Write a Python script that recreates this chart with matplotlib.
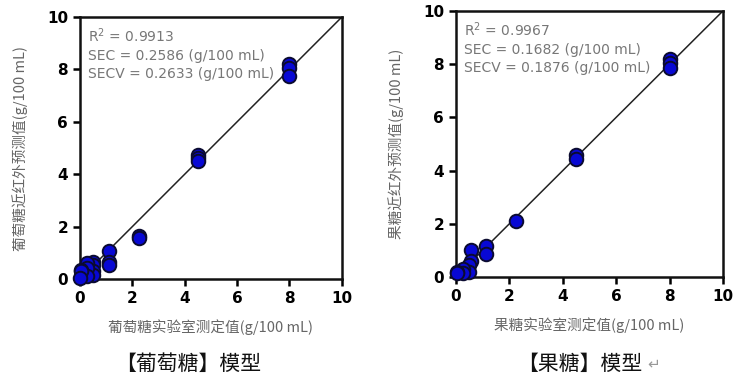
import matplotlib.pyplot as plt

plt.rcParams['font.family'] = ['Noto Sans CJK SC', 'DejaVu Sans']

# 葡萄糖 data
glu_x = [8, 8, 8, 4.5, 4.5, 4.5, 2.25, 2.25, 1.125, 1.125, 1.125,
         0.5, 0.5, 0.5, 0.5, 0.25, 0.25, 0.25, 0.05, 0.05, 0.0]
glu_y = [8.2, 8.05, 7.75, 4.75, 4.6, 4.5, 1.65, 1.55, 1.05, 0.65, 0.55,
         0.65, 0.55, 0.3, 0.15, 0.6, 0.4, 0.1, 0.35, 0.3, 0.05]
glu_stats = ["R$^2$ = 0.9913", "SEC = 0.2586 (g/100 mL)", "SECV = 0.2633 (g/100 mL)"]

# 果糖 data
fru_x = [8, 8, 8, 4.5, 4.5, 2.25, 1.125, 1.125,
         0.56, 0.56, 0.5, 0.5, 0.25, 0.25, 0.05, 0.05]
fru_y = [8.2, 8.05, 7.85, 4.6, 4.45, 2.1, 1.15, 0.85,
         1.0, 0.6, 0.45, 0.2, 0.3, 0.15, 0.2, 0.15]
fru_stats = ["R$^2$ = 0.9967", "SEC = 0.1682 (g/100 mL)", "SECV = 0.1876 (g/100 mL)"]

ticks = [0, 2, 4, 6, 8, 10]

fig = plt.figure(figsize=(7.5, 3.89), dpi=100)
ax1 = fig.add_axes([0.1067, 0.283, 0.349, 0.673])
ax2 = fig.add_axes([0.608, 0.288, 0.356, 0.684])

def draw(ax, x, y, stats, xlabel, ylabel):
    ax.plot([0, 10], [0, 10], color="#222222", linewidth=1.1, zorder=1)
    ax.scatter(x, y, s=95, color="#0808d4", edgecolor="#0b0b30", linewidth=1.4, zorder=3, clip_on=False)
    ax.set_xlim(0, 10)
    ax.set_ylim(0, 10)
    ax.set_xticks(ticks)
    ax.set_yticks(ticks)
    for s in ax.spines.values():
        s.set_linewidth(1.8)
        s.set_color("#111111")
    ax.tick_params(width=1.8, length=5, labelsize=11)
    for lab in ax.get_xticklabels() + ax.get_yticklabels():
        lab.set_fontweight("bold")
        lab.set_family(["DejaVu Sans"])
    ax.text(0.03, 0.965, "\n".join(stats), transform=ax.transAxes, va="top", ha="left",
            fontsize=10, color="#777777", linespacing=1.35, family=["DejaVu Sans"])
    ax.set_xlabel(xlabel, fontsize=10.5, color="#666666", labelpad=10)
    ax.set_ylabel(ylabel, fontsize=10.5, color="#666666", labelpad=14)

draw(ax1, glu_x, glu_y, glu_stats, "葡萄糖实验室测定值(g/100 mL)", "葡萄糖近红外预测值(g/100 mL)")
draw(ax2, fru_x, fru_y, fru_stats, "果糖实验室测定值(g/100 mL)", "果糖近红外预测值(g/100 mL)")

fig.text(188 / 750, 1 - 364 / 389, "【葡萄糖】模型", ha="center", va="center", fontsize=15, color="#111111")
fig.text(580 / 750, 1 - 364 / 389, "【果糖】模型", ha="center", va="center", fontsize=15, color="#111111")
fig.text(647 / 750, 1 - 364 / 389, "↵", ha="left", va="center", fontsize=11, color="#999999")

fig.savefig("out.png", dpi=100)
